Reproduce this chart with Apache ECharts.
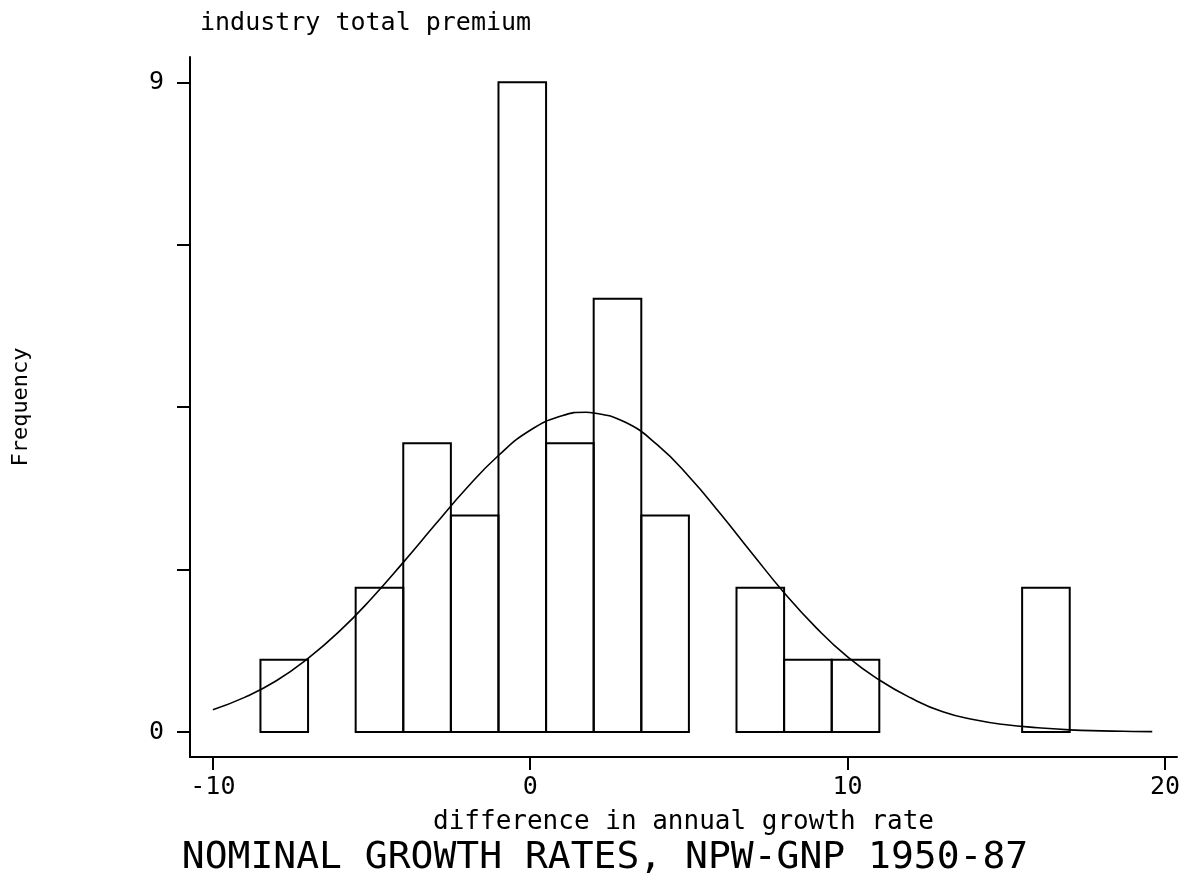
<!DOCTYPE html>
<html>
<head>
<meta charset="utf-8">
<script src="https://cdn.jsdelivr.net/npm/echarts@6/dist/echarts.min.js"></script>
<style>html,body{margin:0;padding:0;background:#fff}#c{width:1189px;height:887px}</style>
</head>
<body>
<div id="c"></div>
<script>
// Histogram bins (left edges, right edges) and frequencies
const binLeft  = [-8.5, -7, -5.5, -4, -2.5, -1, 0.5, 2, 3.5, 5, 6.5, 8, 9.5, 11, 12.5, 14, 15.5];
const binRight = [-7, -5.5, -4, -2.5, -1, 0.5, 2, 3.5, 5, 6.5, 8, 9.5, 11, 12.5, 14, 15.5, 17];
const counts   = [1, 0, 2, 4, 3, 9, 4, 6, 3, 0, 2, 1, 1, 0, 0, 0, 2];
// Fitted normal curve
const curveX = [-10, -9, -8, -7, -6, -5, -4, -3, -2, -1, 0, 1, 1.75, 2, 3, 4, 5, 6, 7, 8, 9, 10, 11, 12, 13, 14, 15, 16, 17, 18, 19, 19.6];
const curveY = [0.31, 0.48, 0.71, 1.02, 1.4, 1.85, 2.35, 2.87, 3.38, 3.83, 4.18, 4.38, 4.43, 4.42, 4.29, 3.98, 3.54, 3.02, 2.47, 1.93, 1.45, 1.04, 0.72, 0.47, 0.28, 0.17, 0.1, 0.06, 0.03, 0.016, 0.008, 0.005];
// Tick values
const xTicks = [-10, 0, 10, 20];
const yTicks = [0, 2.25, 4.5, 6.75, 9];
const yLabels = [0, 9];

const FONT = 'DejaVu Sans Mono';
const barData = [];
for (let i = 0; i < counts.length; i++) {
  if (counts[i] > 0) barData.push([binLeft[i], binRight[i], counts[i]]);
}
const lineData = curveX.map((x, i) => [x, curveY[i]]);

const chart = echarts.init(document.getElementById('c'), null, {renderer: 'canvas'});
chart.setOption({
  animation: false,
  backgroundColor: '#fff',
  title: [
    {text: 'industry total premium', left: 195, top: 6,
     textStyle: {fontFamily: FONT, fontSize: 25, fontWeight: 'normal', color: '#000'}},
    {text: 'NOMINAL GROWTH RATES, NPW-GNP 1950-87', left: 600, top: 834, textAlign: 'center',
     textStyle: {fontFamily: FONT, fontSize: 38, fontWeight: 'normal', color: '#000'}}
  ],
  grid: {left: 190, right: 12, top: 57, bottom: 130, containLabel: false},
  xAxis: {
    type: 'value', min: -10.72, max: 20.38,
    name: 'difference in annual growth rate', nameLocation: 'middle', nameGap: 52,
    nameTextStyle: {fontFamily: FONT, fontSize: 26, color: '#000'},
    axisLine: {show: true, onZero: false, lineStyle: {color: '#000', width: 2}},
    axisTick: {show: true, customValues: xTicks, length: 13, lineStyle: {color: '#000', width: 2}},
    axisLabel: {show: true, customValues: xTicks, margin: 18, fontFamily: FONT, fontSize: 25, color: '#000'},
    splitLine: {show: false}
  },
  yAxis: {
    type: 'value', min: -0.346, max: 9.35,
    name: 'Frequency', nameLocation: 'middle', nameGap: 158, nameRotate: 90,
    nameTextStyle: {fontFamily: FONT, fontSize: 22, color: '#000'},
    axisLine: {show: true, onZero: false, lineStyle: {color: '#000', width: 2}},
    axisTick: {show: true, customValues: yTicks, length: 13, lineStyle: {color: '#000', width: 2}},
    axisLabel: {show: true, customValues: yLabels, margin: 26, fontFamily: FONT, fontSize: 25, color: '#000'},
    splitLine: {show: false}
  },
  series: [
    {
      type: 'custom',
      data: barData,
      encode: {x: [0, 1], y: 2},
      renderItem: function (params, api) {
        const p0 = api.coord([api.value(0), api.value(2)]);
        const p1 = api.coord([api.value(1), 0]);
        return {
          type: 'rect',
          shape: {x: p0[0], y: p0[1], width: p1[0] - p0[0], height: p1[1] - p0[1]},
          style: {fill: 'none', stroke: '#000', lineWidth: 2}
        };
      },
      z: 2
    },
    {
      type: 'line',
      data: lineData,
      smooth: true,
      showSymbol: false,
      lineStyle: {color: '#000', width: 1.6},
      z: 3
    }
  ]
});
</script>
</body>
</html>
